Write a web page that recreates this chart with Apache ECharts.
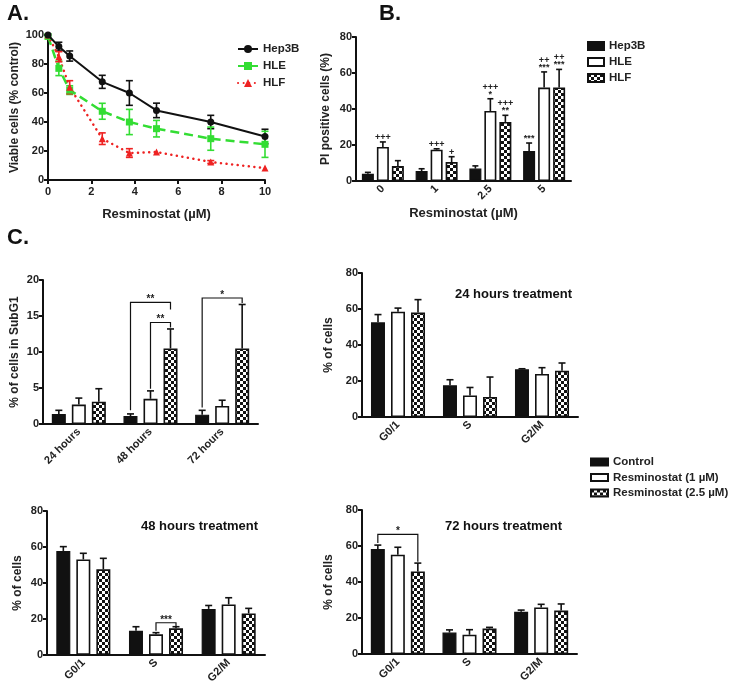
<!DOCTYPE html>
<html><head><meta charset="utf-8">
<script src="https://cdn.jsdelivr.net/npm/echarts@6/dist/echarts.min.js"></script>
<style>html,body{margin:0;padding:0;background:#fff;} .c{position:absolute;left:0;top:0;width:732px;height:686px;}</style>
</head><body>
<div id="pa" class="c"></div><div id="pb" class="c"></div><div id="pc" class="c"></div>
<script>
// ---------- Panel A data ----------
const doseA = [0, 0.5, 1, 2.5, 3.75, 5, 7.5, 10];
const hep3bA = [100, 92, 85.5, 67.7, 60, 48, 40, 30];
const hep3bErrA = [0, 3, 3.5, 4.5, 8.5, 5, 4.6, 5];
const hleA = [99, 77, 62, 47.4, 40, 35.4, 28.5, 24.6];
const hleErrA = [0, 5, 3, 5.5, 8.7, 5.7, 8, 9];
const hlfA = [100, 85, 64, 28.5, 18.6, 19.3, 12.4, 8.2];
const hlfErrA = [0, 3.5, 4.5, 4, 3, 0, 1, 0];

// ---------- Panel B data ----------
const doseB = ['0', '1', '2.5', '5'];
const hep3bB = [4, 5.5, 6.9, 16.7];
const hep3bErrB = [0.8, 1.3, 1.5, 4.4];
const hleB = [18.9, 17.4, 38.9, 51.9];
const hleErrB = [2.8, 0.5, 6.8, 8.7];
const hlfB = [8.3, 10.5, 32.8, 52];
const hlfErrB = [3, 3, 3.7, 10];
// [category, series, label]
const marksB = [[0, 1, '+++'], [1, 1, '+++'], [1, 2, '+'], [2, 1, '+++\n*'], [2, 2, '+++\n**'], [3, 0, '***'], [3, 1, '++\n***'], [3, 2, '++\n***']];

// ---------- Panel C data ----------
const timesC = ['24 hours', '48 hours', '72 hours'];
const ctrlSub = [1.4, 1.1, 1.3];
const ctrlSubErr = [0.5, 0.3, 0.6];
const r1Sub = [2.7, 3.5, 2.5];
const r1SubErr = [0.9, 1.1, 0.8];
const r25Sub = [3.1, 10.5, 10.5];
const r25SubErr = [1.8, 2.7, 6.1];
// [category, fromSeries, toSeries, lineValue, leftEnd, rightEnd, label]
const bracketsSub = [[1, 0, 2, 16.9, 1.9, 15.9, '**'], [1, 1, 2, 14.1, 4.9, 13.4, '**'], [2, 0, 2, 17.5, 2.3, 16.8, '*']];

const phases = ['G0/1', 'S', 'G2/M'];
const ctrl24 = [52.6, 17.6, 26.5], ctrl24Err = [4.3, 3.1, 0.3];
const r1_24 = [58.5, 12, 23.9], r1_24Err = [2, 4.4, 3.5];
const r25_24 = [58, 11.1, 25.7], r25_24Err = [7.2, 11.1, 4.3];
const ctrl48 = [57.8, 13.5, 25.6], ctrl48Err = [2.4, 2.2, 1.9];
const r1_48 = [53.1, 11.5, 28.1], r1_48Err = [3.4, 0.9, 3.7];
const r25_48 = [47.6, 14.8, 23.1], r25_48Err = [6.1, 0.9, 2.8];
const brackets48 = [[1, 1, 2, 17.9, 13.5, 15.9, '***']];
const ctrl72 = [58.3, 11.9, 23.5], ctrl72Err = [2.2, 1.5, 0.9];
const r1_72 = [55.2, 10.7, 25.9], r1_72Err = [4.1, 2.8, 1.7];
const r25_72 = [45.9, 14.1, 24.1], r25_72Err = [4.6, 0.7, 3.7];
const brackets72 = [[0, 0, 2, 66.5, 61.7, 51.3, '*']];

const legendC = ['Control', 'Resminostat (1 µM)', 'Resminostat (2.5 µM)'];

// ---------- helpers ----------
const FONT = 'Liberation Sans, Arial, sans-serif';
const INK = '#111';
function checker() {
  const c = document.createElement('canvas'); c.width = 6; c.height = 6;
  const g = c.getContext('2d'); g.fillStyle = '#fff'; g.fillRect(0, 0, 6, 6);
  g.fillStyle = '#111'; g.fillRect(0, 0, 3, 3); g.fillRect(3, 3, 3, 3);
  return { image: c, repeat: 'repeat' };
}
const PAT = checker();
const barStyles = [
  { color: INK, borderColor: INK, borderWidth: 1.2 },
  { color: '#fff', borderColor: INK, borderWidth: 1.6 },
  { color: PAT, borderColor: INK, borderWidth: 1.6 }
];
function yAx(grid, min, max, interval, name, gap) {
  return { type: 'value', gridIndex: grid, min, max, interval, name, nameLocation: 'middle', nameGap: gap,
    nameTextStyle: { fontFamily: FONT, fontWeight: 'bold', fontSize: 12, color: '#222' },
    axisLine: { show: true, lineStyle: { color: INK, width: 2 } },
    axisTick: { show: true, length: 4, lineStyle: { color: INK, width: 2 } },
    axisLabel: { fontFamily: FONT, fontWeight: 'bold', fontSize: 11, color: '#222', margin: 4 },
    splitLine: { show: false } };
}
function xCat(grid, data, name, gap) {
  return { type: 'category', gridIndex: grid, data, name, nameLocation: 'middle', nameGap: gap,
    nameTextStyle: { fontFamily: FONT, fontWeight: 'bold', fontSize: 13, color: '#222' },
    axisLine: { lineStyle: { color: INK, width: 2 } },
    axisTick: { alignWithLabel: true, length: 4, lineStyle: { color: INK, width: 2 } },
    axisLabel: { rotate: 45, fontFamily: FONT, fontWeight: 'bold', fontSize: 11, color: '#222', margin: 6 },
    splitLine: { show: false } };
}
function bars(grid, name, vals, k, bw, gapPct) {
  return { type: 'bar', name, xAxisIndex: grid, yAxisIndex: grid, data: vals, barWidth: bw, barGap: gapPct,
    itemStyle: barStyles[k], emphasis: { disabled: true }, silent: true };
}
function barErr(grid, vals, errs, k, n, bw, gap, cap) {
  return { type: 'custom', xAxisIndex: grid, yAxisIndex: grid, silent: true, z: 3,
    data: vals.map((v, i) => [i, v, errs[i]]),
    renderItem(p, api) {
      const c = api.coord([api.value(0), api.value(1)]);
      const t = api.coord([api.value(0), api.value(1) + api.value(2)]);
      const x = c[0] + (k - (n - 1) / 2) * (bw + gap);
      return { type: 'group', children: [
        { type: 'line', shape: { x1: x, y1: c[1], x2: x, y2: t[1] }, style: { stroke: INK, lineWidth: 1.6 } },
        { type: 'line', shape: { x1: x - cap / 2, y1: t[1], x2: x + cap / 2, y2: t[1] }, style: { stroke: INK, lineWidth: 1.6 } }
      ] };
    } };
}
function brackets(grid, list, n, bw, gap) {
  return { type: 'custom', xAxisIndex: grid, yAxisIndex: grid, silent: true, z: 4,
    data: list.map(b => [b[0], b[3]]),
    renderItem(p, api) {
      const b = list[p.dataIndex];
      const c = api.coord([b[0], b[3]]);
      const off = k => (k - (n - 1) / 2) * (bw + gap);
      const x1 = c[0] + off(b[1]), x2 = c[0] + off(b[2]);
      const yl = api.coord([b[0], b[4]])[1], yr = api.coord([b[0], b[5]])[1];
      return { type: 'group', children: [
        { type: 'polyline', shape: { points: [[x1, yl], [x1, c[1]], [x2, c[1]], [x2, yr]] }, style: { stroke: INK, lineWidth: 1.2, fill: null } },
        { type: 'text', style: { text: b[6], x: (x1 + x2) / 2, y: c[1] + 2, align: 'center', verticalAlign: 'bottom', font: 'bold 10px ' + FONT, fill: '#222' } }
      ] };
    } };
}
const legendText = { fontFamily: FONT, fontWeight: 'bold', fontSize: 11.5, color: '#222', lineHeight: 14 };

// ---------- Chart A ----------
const colA = [INK, '#33dd33', '#ee2222'];
function lineErr(vals, errs, color) {
  return { type: 'custom', silent: true, z: 3, data: doseA.map((d, i) => [d, vals[i], errs[i]]),
    renderItem(p, api) {
      const lo = api.coord([api.value(0), api.value(1) - api.value(2)]);
      const hi = api.coord([api.value(0), api.value(1) + api.value(2)]);
      if (api.value(2) <= 0) return null;
      const x = lo[0], cap = 7;
      return { type: 'group', children: [
        { type: 'line', shape: { x1: x, y1: lo[1], x2: x, y2: hi[1] }, style: { stroke: color, lineWidth: 1.6 } },
        { type: 'line', shape: { x1: x - cap / 2, y1: hi[1], x2: x + cap / 2, y2: hi[1] }, style: { stroke: color, lineWidth: 1.6 } },
        { type: 'line', shape: { x1: x - cap / 2, y1: lo[1], x2: x + cap / 2, y2: lo[1] }, style: { stroke: color, lineWidth: 1.6 } }
      ] };
    } };
}
const chartA = echarts.init(document.getElementById('pa'));
chartA.setOption({
  animation: false,
  title: [{ text: 'A.', left: 2, top: -2, textStyle: { fontFamily: FONT, fontWeight: 'bold', fontSize: 22, color: '#111' } }],
  grid: { left: 48, top: 35, width: 217, height: 145 },
  xAxis: { type: 'value', min: 0, max: 10, interval: 2, name: 'Resminostat (µM)', nameLocation: 'middle', nameGap: 28,
    nameTextStyle: { fontFamily: FONT, fontWeight: 'bold', fontSize: 13, color: '#222' },
    axisLine: { lineStyle: { color: INK, width: 2 } }, axisTick: { length: 4, lineStyle: { color: INK, width: 2 } },
    axisLabel: { fontFamily: FONT, fontWeight: 'bold', fontSize: 11, color: '#222', margin: 6 }, splitLine: { show: false } },
  yAxis: yAx(0, 0, 100, 20, 'Viable cells (% control)', 27),
  legend: { orient: 'vertical', left: 237, top: 42, padding: 0, itemGap: 3, itemWidth: 20, itemHeight: 10,
    textStyle: legendText, data: ['Hep3B', 'HLE', 'HLF'] },
  series: [
    { type: 'line', name: 'Hep3B', data: doseA.map((d, i) => [d, hep3bA[i]]), symbol: 'circle', symbolSize: 7,
      lineStyle: { color: colA[0], width: 2 }, itemStyle: { color: colA[0] }, z: 5 },
    { type: 'line', name: 'HLE', data: doseA.map((d, i) => [d, hleA[i]]), symbol: 'rect', symbolSize: 7,
      lineStyle: { color: colA[1], width: 2.5, type: [9, 5] }, itemStyle: { color: colA[1] }, z: 4 },
    { type: 'line', name: 'HLF', data: doseA.map((d, i) => [d, hlfA[i]]), symbol: 'triangle', symbolSize: 7,
      lineStyle: { color: colA[2], width: 2.5, type: [0.1, 5.5], cap: 'round' }, itemStyle: { color: colA[2] }, z: 4 },
    lineErr(hep3bA, hep3bErrA, colA[0]), lineErr(hleA, hleErrA, colA[1]), lineErr(hlfA, hlfErrA, colA[2])
  ]
});

// ---------- Chart B ----------
const BW = 12, BG = 3;
const chartB = echarts.init(document.getElementById('pb'));
chartB.setOption({
  animation: false,
  title: [{ text: 'B.', left: 374, top: -2, textStyle: { fontFamily: FONT, fontWeight: 'bold', fontSize: 22, color: '#111' } }],
  grid: [{ left: 356, top: 37, width: 215, height: 144 }],
  xAxis: [xCat(0, doseB, 'Resminostat (µM)', 26)],
  yAxis: [yAx(0, 0, 80, 20, 'PI positive cells (%)', 24)],
  legend: { orient: 'vertical', left: 587, top: 39, padding: 0, itemGap: 2, itemWidth: 16, itemHeight: 8, icon: 'rect',
    textStyle: legendText, data: ['Hep3B', 'HLE', 'HLF'] },
  series: [
    bars(0, 'Hep3B', hep3bB, 0, BW, '25%'), bars(0, 'HLE', hleB, 1, BW, '25%'), bars(0, 'HLF', hlfB, 2, BW, '25%'),
    barErr(0, hep3bB, hep3bErrB, 0, 3, BW, BG, 6), barErr(0, hleB, hleErrB, 1, 3, BW, BG, 6), barErr(0, hlfB, hlfErrB, 2, 3, BW, BG, 6),
    { type: 'custom', silent: true, z: 4, data: marksB.map(m => {
        const v = [hep3bB, hleB, hlfB][m[1]][m[0]] + [hep3bErrB, hleErrB, hlfErrB][m[1]][m[0]];
        return [m[0], v];
      }),
      renderItem(p, api) {
        const m = marksB[p.dataIndex];
        const c = api.coord([api.value(0), api.value(1)]);
        const x = c[0] + (m[1] - 1) * (BW + BG);
        return { type: 'text', style: { text: m[2], x, y: c[1] - 1, align: 'center', verticalAlign: 'bottom', font: 'bold 9px ' + FONT, lineHeight: 7, fill: '#222' } };
      } }
  ]
});

// ---------- Chart C ----------
const CBW = 14, CG = 6, CGP = '43%';
const chartC = echarts.init(document.getElementById('pc'));
const sets = [
  [ctrlSub, ctrlSubErr, r1Sub, r1SubErr, r25Sub, r25SubErr],
  [ctrl24, ctrl24Err, r1_24, r1_24Err, r25_24, r25_24Err],
  [ctrl48, ctrl48Err, r1_48, r1_48Err, r25_48, r25_48Err],
  [ctrl72, ctrl72Err, r1_72, r1_72Err, r25_72, r25_72Err]
];
const seriesC = [];
sets.forEach((s, g) => {
  for (let k = 0; k < 3; k++) seriesC.push(bars(g, legendC[k], s[2 * k], k, CBW, CGP));
  for (let k = 0; k < 3; k++) seriesC.push(barErr(g, s[2 * k], s[2 * k + 1], k, 3, CBW, CG, 7));
});
seriesC.push(brackets(0, bracketsSub, 3, CBW, CG));
seriesC.push(brackets(2, brackets48, 3, CBW, CG));
seriesC.push(brackets(3, brackets72, 3, CBW, CG));
const titleStyle = { fontFamily: FONT, fontWeight: 'bold', fontSize: 13, color: '#111' };
chartC.setOption({
  animation: false,
  title: [
    { text: 'C.', left: 2, top: 222, textStyle: { fontFamily: FONT, fontWeight: 'bold', fontSize: 22, color: '#111' } },
    { text: '24 hours treatment', left: 450, top: 283, textStyle: titleStyle },
    { text: '48 hours treatment', left: 136, top: 515, textStyle: titleStyle },
    { text: '72 hours treatment', left: 440, top: 515, textStyle: titleStyle }
  ],
  grid: [
    { left: 43, top: 280, width: 215, height: 144 },
    { left: 362, top: 273, width: 216, height: 144 },
    { left: 47, top: 511, width: 218, height: 144 },
    { left: 362, top: 510, width: 215, height: 144 }
  ],
  xAxis: [xCat(0, timesC, '', 0), xCat(1, phases, '', 0), xCat(2, phases, '', 0), xCat(3, phases, '', 0)],
  yAxis: [
    yAx(0, 0, 20, 5, '% of cells in SubG1', 22),
    yAx(1, 0, 80, 20, '% of cells', 27),
    yAx(2, 0, 80, 20, '% of cells', 23),
    yAx(3, 0, 80, 20, '% of cells', 27)
  ],
  legend: { orient: 'vertical', left: 590, top: 455, padding: 0, itemGap: 1.5, itemWidth: 17, itemHeight: 7, icon: 'rect',
    textStyle: legendText, data: legendC },
  series: seriesC
});
</script></body></html>
